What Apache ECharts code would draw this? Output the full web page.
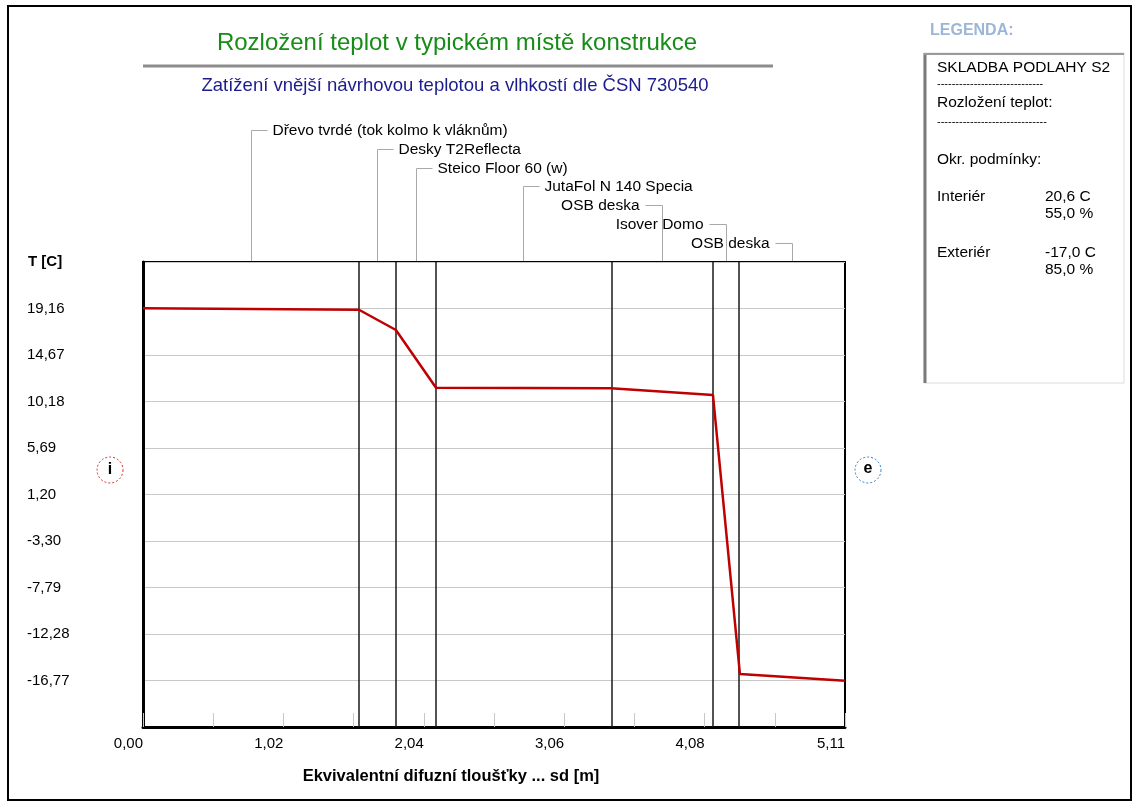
<!DOCTYPE html>
<html>
<head>
<meta charset="utf-8">
<script src="https://cdn.jsdelivr.net/npm/echarts@6/dist/echarts.min.js"></script>
<style>
  html, body { margin: 0; padding: 0; background: #ffffff; }
  #chart { width: 1136px; height: 807px; }
</style>
</head>
<body>
<div id="chart"></div>
<script>
// Layers of the floor build-up, from the interior side outwards
const LAYER_NAMES = [
  'Dřevo tvrdé (tok kolmo k vláknům)',
  'Desky T2Reflecta',
  'Steico Floor 60 (w)',
  'JutaFol N 140 Specia',
  'OSB deska',
  'Isover Domo',
  'OSB deska'
];
// Cumulative equivalent diffusion thickness sd [m] at each layer interface
const LAYER_EDGES_SD = [0, 1.572, 1.841, 2.133, 3.406, 4.149, 4.345, 5.11];
// Temperature [C] at each interface
const EDGE_TEMPS = [19.18, 19.04, 17.08, 11.51, 11.45, 10.80, -16.14, -16.79];

// Axis ticks
const X_STEP = 0.511;
const X_MAX = 5.11;
const X_TICK_LABELS = ['0,00', '1,02', '2,04', '3,06', '4,08', '5,11'];
const Y_MIN = -21.26;
const Y_STEP = 4.491;
const Y_MAX = 23.65;
const Y_TICK_LABELS = ['-16,77', '-12,28', '-7,79', '-3,30', '1,20', '5,69', '10,18', '14,67', '19,16'];

// Boundary conditions shown in the legend panel
const BOUNDARY_NAMES = ['Interiér', 'Exteriér'];
const BOUNDARY_TEMPS = [20.6, -17.0];
const BOUNDARY_RH = [55.0, 85.0];

const FONT = '"Liberation Sans", Arial, Helvetica, sans-serif';
const fmt1 = v => v.toFixed(1).replace('.', ',');

const chart = echarts.init(document.getElementById('chart'), null, { renderer: 'canvas' });

const legendTexts = [];
const LX = 937, VX = 1045;
const LF = '15.5px ' + FONT;
legendTexts.push({ type: 'text', style: { text: 'SKLADBA PODLAHY S2', x: LX, y: 68, verticalAlign: 'middle', font: LF, fill: '#000' } });
legendTexts.push({ type: 'text', style: { text: '-----------------------------', x: LX, y: 84, verticalAlign: 'middle', font: '11px ' + FONT, fill: '#000' } });
legendTexts.push({ type: 'text', style: { text: 'Rozložení teplot:', x: LX, y: 103, verticalAlign: 'middle', font: LF, fill: '#000' } });
legendTexts.push({ type: 'text', style: { text: '------------------------------', x: LX, y: 122, verticalAlign: 'middle', font: '11px ' + FONT, fill: '#000' } });
legendTexts.push({ type: 'text', style: { text: 'Okr. podmínky:', x: LX, y: 160, verticalAlign: 'middle', font: LF, fill: '#000' } });
BOUNDARY_NAMES.forEach((name, i) => {
  const y = 197 + i * 56;
  legendTexts.push({ type: 'text', style: { text: name, x: LX, y: y, verticalAlign: 'middle', font: LF, fill: '#000' } });
  legendTexts.push({ type: 'text', style: { text: fmt1(BOUNDARY_TEMPS[i]) + ' C', x: VX, y: y, verticalAlign: 'middle', font: LF, fill: '#000' } });
  legendTexts.push({ type: 'text', style: { text: fmt1(BOUNDARY_RH[i]) + ' %', x: VX, y: y + 17, verticalAlign: 'middle', font: LF, fill: '#000' } });
});

const option = {
  animation: false,
  backgroundColor: '#ffffff',
  grid: { left: 143, top: 262, width: 702, height: 465, show: true, borderColor: '#000', borderWidth: 2, backgroundColor: 'transparent' },
  xAxis: {
    type: 'value', min: 0, max: X_MAX, interval: X_STEP,
    axisLine: { show: true, onZero: false, lineStyle: { color: '#000', width: 3 } },
    axisTick: { show: true, inside: true, length: 14, lineStyle: { color: '#c8c8c8', width: 1 } },
    splitLine: { show: false },
    axisLabel: {
      show: true, margin: 9, align: 'right', color: '#000', fontFamily: FONT, fontSize: 15,
      formatter: v => { const k = Math.round(v / X_STEP); return k % 2 === 0 ? (X_TICK_LABELS[k / 2] || '') : ''; }
    }
  },
  yAxis: {
    type: 'value', min: Y_MIN, max: Y_MAX, interval: Y_STEP,
    axisLine: { show: true, onZero: false, lineStyle: { color: '#000', width: 3 } },
    axisTick: { show: false },
    splitLine: { show: true, lineStyle: { color: '#c8c8c8', width: 1 } },
    axisLabel: {
      show: true, margin: 116, align: 'left', color: '#000', fontFamily: FONT, fontSize: 15,
      showMinLabel: false, showMaxLabel: false,
      formatter: v => { const k = Math.round((v - Y_MIN) / Y_STEP); return Y_TICK_LABELS[k - 1] || ''; }
    }
  },
  series: [
    {
      type: 'line', name: 'T',
      data: LAYER_EDGES_SD.map((x, i) => [x, EDGE_TEMPS[i]]),
      symbol: 'none', silent: true, z: 5,
      lineStyle: { color: '#c00000', width: 2.5 },
      markLine: {
        silent: true, symbol: ['none', 'none'], label: { show: false },
        lineStyle: { color: '#1a1a1a', width: 1.5, type: 'solid' },
        data: LAYER_EDGES_SD.slice(1, -1).map(x => ({ xAxis: x }))
      }
    },
    {
      type: 'custom', name: 'layers', clip: false, silent: true,
      data: LAYER_NAMES.map((n, i) => [(LAYER_EDGES_SD[i] + LAYER_EDGES_SD[i + 1]) / 2, Y_MAX]),
      renderItem: (params, api) => {
        const i = params.dataIndex;
        const p = api.coord([api.value(0), api.value(1)]);
        const x = Math.round(p[0]) + 0.5;
        const top = p[1] - 1;
        const rowY = Math.round(p[1] - 132 + i * 18.8) + 0.5;
        const toRight = i < 4;
        const hx = toRight ? x + 16 : x - 17;
        return {
          type: 'group',
          children: [
            { type: 'polyline', shape: { points: [[x, top], [x, rowY], [hx, rowY]] }, style: { stroke: '#a8a8a8', lineWidth: 1, fill: null } },
            { type: 'text', style: { text: LAYER_NAMES[i], x: toRight ? hx + 5 : hx - 6, y: rowY, align: toRight ? 'left' : 'right', verticalAlign: 'middle', font: '15.5px ' + FONT, fill: '#000' } }
          ]
        };
      }
    }
  ],
  graphic: [
    // outer frame
    { type: 'rect', shape: { x: 8, y: 6, width: 1123, height: 794 }, style: { fill: null, stroke: '#000', lineWidth: 2 }, silent: true },
    // title block
    { type: 'text', style: { text: 'Rozložení teplot v typickém místě konstrukce', x: 457, y: 43, align: 'center', verticalAlign: 'middle', font: '24px ' + FONT, fill: '#178c17' } },
    { type: 'line', shape: { x1: 143, y1: 66, x2: 773, y2: 66 }, style: { stroke: '#8c8c8c', lineWidth: 3 } },
    { type: 'text', style: { text: 'Zatížení vnější návrhovou teplotou a vlhkostí dle ČSN 730540', x: 455, y: 86, align: 'center', verticalAlign: 'middle', font: '18.5px ' + FONT, fill: '#1c1c8c' } },
    // axis captions
    { type: 'text', style: { text: 'T [C]', x: 28, y: 262, verticalAlign: 'middle', font: 'bold 15px ' + FONT, fill: '#000' } },
    { type: 'text', style: { text: 'Ekvivalentní difuzní tloušťky ... sd [m]', x: 451, y: 776, align: 'center', verticalAlign: 'middle', font: 'bold 16.5px ' + FONT, fill: '#000' } },
    // interior / exterior markers
    { type: 'circle', shape: { cx: 110, cy: 470, r: 13 }, style: { fill: '#fff', stroke: '#d23232', lineWidth: 1, lineDash: [2, 2] } },
    { type: 'text', style: { text: 'i', x: 110, y: 470, align: 'center', verticalAlign: 'middle', font: 'bold 16px ' + FONT, fill: '#000' } },
    { type: 'circle', shape: { cx: 868, cy: 470, r: 13 }, style: { fill: '#fff', stroke: '#3a7cc4', lineWidth: 1, lineDash: [2, 2] } },
    { type: 'text', style: { text: 'e', x: 868, y: 469, align: 'center', verticalAlign: 'middle', font: 'bold 16px ' + FONT, fill: '#000' } },
    // legend panel
    { type: 'text', style: { text: 'LEGENDA:', x: 930, y: 31, verticalAlign: 'middle', font: 'bold 16px ' + FONT, fill: '#9cb6d8' } },
    { type: 'rect', shape: { x: 924, y: 53, width: 200, height: 330 }, style: { fill: '#fff', stroke: '#dcdcdc', lineWidth: 1 } },
    { type: 'line', shape: { x1: 925, y1: 53, x2: 925, y2: 383 }, style: { stroke: '#7a7a7a', lineWidth: 3 } },
    { type: 'line', shape: { x1: 924, y1: 54, x2: 1124, y2: 54 }, style: { stroke: '#9a9a9a', lineWidth: 2 } },
    ...legendTexts
  ]
};

chart.setOption(option);
</script>
</body>
</html>
